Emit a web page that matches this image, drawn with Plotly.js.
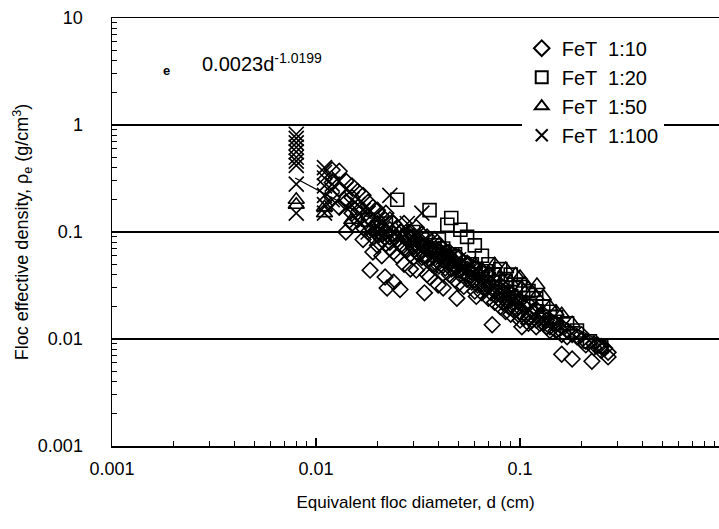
<!DOCTYPE html>
<html>
<head>
<meta charset="utf-8">
<script src="https://cdn.plot.ly/plotly-3.0.1.min.js"></script>
<style>
html,body{margin:0;padding:0;background:#fff;overflow:hidden;}
#chart{width:719px;height:529px;}
</style>
</head>
<body>
<div id="chart"></div>
<script>
// ---- Data ----
const seriesNames = ["FeT  1:10", "FeT  1:20", "FeT  1:50", "FeT  1:100"];

// FeT 1:10 (open diamonds)
const d10 = [
  0.012,0.012,0.012, 0.013,0.013,0.013, 0.014,0.014,0.014, 0.015,0.015,0.015,0.015,
  0.016,0.016,0.016, 0.017,0.017,0.017,0.017, 0.018,0.018,0.018,0.0184, 0.019,0.019,0.019,0.019,0.019,
  0.02,0.02,0.02,0.02, 0.021,0.021,0.021,0.021,0.021, 0.022,0.022,0.022,0.0218,0.0223, 0.023,0.023,0.023,0.023,0.023,
  0.024,0.024,0.024,0.024, 0.025,0.025,0.025,0.0258, 0.026,0.026, 0.027,0.027,0.027,0.027, 0.028,0.028,
  0.029,0.029,0.029,0.029, 0.03,0.03,0.03, 0.031,0.031,0.031,0.031, 0.032,0.032, 0.033,0.033,0.033, 0.034,0.034,0.034,
  0.035,0.035,0.035,0.035, 0.036,0.036,0.036, 0.037,0.037, 0.038,0.038,0.038, 0.039,0.039,
  0.04,0.04,0.04,0.0397, 0.041,0.041, 0.042,0.042,0.042,0.042, 0.043,0.043, 0.044, 0.045,0.045,0.045,
  0.046,0.046, 0.047, 0.048,0.048,0.048, 0.049, 0.05,0.05,0.05, 0.051,0.051, 0.052, 0.053,0.053,0.053,
  0.055,0.055, 0.056,0.056, 0.058,0.058, 0.06,0.06,0.06, 0.061, 0.062,0.062, 0.065,0.065,0.065, 0.067,0.067,
  0.07,0.07,0.07, 0.072,0.072, 0.073, 0.075,0.075,0.075, 0.078,0.078, 0.08,0.08,0.08, 0.082,0.082,
  0.085,0.085,0.085, 0.088,0.088, 0.09,0.09,0.09, 0.092,0.092, 0.095,0.095, 0.098,0.098, 0.1,0.1,0.1, 0.102,
  0.105,0.105, 0.11,0.11,0.11, 0.115,0.115, 0.12,0.12,0.12, 0.125,0.125, 0.13,0.13, 0.135,0.135,
  0.14,0.14,0.14, 0.145, 0.15,0.15, 0.155, 0.16,0.16,0.16, 0.17,0.17, 0.18,0.18, 0.19,
  0.2,0.2, 0.21,0.21, 0.225, 0.23,0.23, 0.24, 0.25,0.25, 0.26, 0.27,0.27];
const r10 = [
  0.38,0.29,0.21, 0.37,0.25,0.17, 0.30,0.19,0.10, 0.27,0.21,0.15,0.12,
  0.24,0.17,0.13, 0.22,0.16,0.11,0.085, 0.19,0.14,0.10,0.044, 0.17,0.125,0.105,0.09,0.065,
  0.16,0.12,0.095,0.075, 0.14,0.11,0.095,0.085,0.06, 0.15,0.10,0.078,0.038,0.030, 0.13,0.105,0.09,0.08,0.07,
  0.12,0.095,0.065,0.034, 0.11,0.085,0.06,0.029, 0.1,0.075, 0.12,0.09,0.07,0.05, 0.085,0.068,
  0.10,0.08,0.062,0.045, 0.09,0.072,0.058, 0.11,0.085,0.065,0.044, 0.08,0.062, 0.095,0.075,0.058, 0.075,0.06,0.027,
  0.09,0.07,0.055,0.04, 0.07,0.056,0.038, 0.062,0.05, 0.085,0.065,0.05, 0.068,0.055,
  0.075,0.06,0.048,0.032, 0.062,0.05, 0.07,0.055,0.041,0.030, 0.06,0.046, 0.055, 0.065,0.052,0.04,
  0.057,0.045, 0.05, 0.06,0.047,0.036, 0.024, 0.058,0.044,0.033, 0.05,0.04, 0.046, 0.052,0.042,0.031,
  0.045,0.036, 0.05,0.039, 0.042,0.034, 0.046,0.036,0.028, 0.025, 0.04,0.032, 0.042,0.033,0.027, 0.037,0.03,
  0.039,0.031,0.024, 0.033,0.027, 0.0136, 0.035,0.028,0.022, 0.03,0.024, 0.032,0.026,0.02, 0.028,0.022,
  0.029,0.023,0.018, 0.025,0.02, 0.027,0.021,0.017, 0.024,0.019, 0.025,0.019, 0.022,0.017, 0.023,0.018,0.015, 0.013,
  0.02,0.016, 0.021,0.016,0.014, 0.018,0.015, 0.019,0.015,0.013, 0.016,0.014, 0.017,0.014, 0.015,0.013,
  0.015,0.013,0.012, 0.014, 0.014,0.012, 0.0125, 0.013,0.011,0.0072, 0.012,0.0105, 0.011,0.0065, 0.0105,
  0.011,0.0098, 0.0095,0.0088, 0.0062, 0.009,0.0083, 0.0088, 0.0085,0.0078, 0.0082, 0.0075,0.0068];

// FeT 1:20 (open squares)
const d20 = [0.018,0.02,0.022,0.025,0.028,0.03,0.033,0.036,0.038,0.04,0.042,0.044,0.046,0.048,0.051,0.055,0.058,
  0.06,0.065,0.068,0.07,0.075,0.08,0.085,0.09,0.095,0.1,0.11,0.12,0.13,0.14,0.15,0.17,0.19,0.22,0.25];
const r20 = [0.13,0.11,0.12,0.2,0.09,0.1,0.085,0.16,0.075,0.085,0.07,0.117,0.135,0.062,0.105,0.09,0.05,
  0.075,0.06,0.043,0.05,0.04,0.045,0.035,0.04,0.03,0.032,0.028,0.024,0.02,0.018,0.016,0.014,0.012,0.0095,0.0085];

// FeT 1:50 (open triangles)
const d50 = [0.008,0.008,0.011,0.011,0.015,0.02,0.025,0.03,0.035,0.04,0.045,0.05,0.055,0.06,0.065,0.07,0.075,0.08,
  0.085,0.09,0.095,0.1,0.102,0.105,0.11,0.115,0.12,0.121,0.13,0.14,0.15,0.16,0.18];
const r50 = [0.18,0.2,0.15,0.17,0.13,0.1,0.09,0.08,0.075,0.07,0.063,0.06,0.052,0.05,0.045,0.042,0.05,0.038,
  0.045,0.034,0.04,0.038,0.03,0.033,0.03,0.027,0.025,0.032,0.025,0.02,0.018,0.017,0.014];

// FeT 1:100 (crosses)
const d100 = [0.008,0.008,0.008,0.008,0.008,0.008,0.008,0.008,0.008,0.008,
  0.011,0.011,0.011,0.011,0.011,0.011,0.011,
  0.012,0.012,0.013,0.014,0.014,0.015,0.016,0.016,0.017,0.018,0.018,0.02,0.021,0.021,0.023,0.023,0.024,0.025,0.026,
  0.028,0.03,0.03,0.032,0.033,0.035,0.036,0.038,0.04,0.042,0.045,0.048,0.05,0.052,0.055,0.058,0.06,0.065,
  0.07,0.075,0.08,0.085,0.09,0.095,0.1,0.11,0.12];
const r100 = [0.82,0.75,0.68,0.62,0.56,0.5,0.46,0.42,0.28,0.15,
  0.40,0.36,0.32,0.27,0.22,0.18,0.15,
  0.28,0.2,0.3,0.25,0.17,0.2,0.18,0.13,0.16,0.15,0.1,0.13,0.12,0.09,0.22,0.11,0.1,0.09,0.085,
  0.12,0.08,0.095,0.07,0.15,0.07,0.08,0.06,0.065,0.058,0.06,0.05,0.055,0.045,0.045,0.04,0.04,0.035,
  0.036,0.03,0.03,0.027,0.025,0.023,0.022,0.019,0.018];

// Fitted power law 0.0023 d^-1.0199 (end points)
const fitD = [0.0079, 0.27];
const fitR = [0.32, 0.0087];

const xTickVals = [0.001, 0.01, 0.1];
const xTickText = ["0.001", "0.01", "0.1"];
const yTickVals = [0.001, 0.01, 0.1, 1, 10];
const yTickText = ["0.001", "0.01", "0.1", "1", "10"];

// minor tick positions (2..9 per decade)
const minorVals = [];
for (let e = -4; e <= 1; e++) for (let m = 2; m <= 9; m++) minorVals.push(m * Math.pow(10, e));

const FONT = "Liberation Sans, Arial, sans-serif";
const mline = {color: "#000", width: 1.6};

const traces = [
  {x: d10, y: r10, name: seriesNames[0], type: "scatter", mode: "markers",
   marker: {symbol: "diamond-open", size: 12, color: "#000", line: mline}},
  {x: d20, y: r20, name: seriesNames[1], type: "scatter", mode: "markers",
   marker: {symbol: "square-open", size: 13, color: "#000", line: mline}},
  {x: d50, y: r50, name: seriesNames[2], type: "scatter", mode: "markers",
   marker: {symbol: "triangle-up-open", size: 14, color: "#000", line: mline}},
  {x: d100, y: r100, name: seriesNames[3], type: "scatter", mode: "markers",
   marker: {symbol: "x-thin-open", size: 15, color: "#000", line: mline}},
  {x: fitD, y: fitR, name: "fit", type: "scatter", mode: "lines", showlegend: false,
   line: {color: "#000", width: 1.3}}
];

const layout = {
  width: 719, height: 529,
  margin: {l: 112, r: 0, t: 18, b: 83},
  paper_bgcolor: "#fff", plot_bgcolor: "#fff",
  font: {family: FONT, color: "#000", size: 17},
  showlegend: true,
  legend: {x: 0.675, y: 0.975, xanchor: "left", yanchor: "top",
    bgcolor: "#fff", borderwidth: 0, font: {family: FONT, size: 20, color: "#000"},
    itemsizing: "constant", tracegroupgap: 0, itemwidth: 30},
  xaxis: {type: "log", range: [-3, -0.025], tickvals: xTickVals, ticktext: xTickText,
    ticks: "inside", ticklen: 8, tickwidth: 1.2, tickcolor: "#000",
    minor: {tickvals: minorVals, ticks: "inside", ticklen: 5, tickwidth: 1, tickcolor: "#000", showgrid: false},
    showline: true, linecolor: "#000", linewidth: 1.5, mirror: true, showgrid: false, zeroline: false,
    tickfont: {family: FONT, size: 18, color: "#000"}, ticklabelstandoff: 6,
    title: {text: "Equivalent floc diameter, d (cm)", font: {family: FONT, size: 17, color: "#000"}, standoff: 18}},
  yaxis: {type: "log", range: [-3, 1], tickvals: yTickVals, ticktext: yTickText,
    ticks: "inside", ticklen: 8, tickwidth: 1.2, tickcolor: "#000",
    minor: {tickvals: minorVals, ticks: "inside", ticklen: 5, tickwidth: 1, tickcolor: "#000", showgrid: false},
    showline: true, linecolor: "#000", linewidth: 1.5, mirror: false,
    showgrid: true, gridcolor: "#000", gridwidth: 1.3, zeroline: false,
    tickfont: {family: FONT, size: 18, color: "#000"}, ticklabelstandoff: 24,
    title: {text: "Floc effective density, ρ<sub>e</sub> (g/cm<sup>3</sup>)", font: {family: FONT, size: 18, color: "#000"}, standoff: 4}},
  annotations: [
    {xref: "paper", yref: "paper", x: 0.0906, y: 0.878, xanchor: "center", yanchor: "middle",
     text: "<b>e</b>", showarrow: false, font: {family: FONT, size: 13, color: "#000"}},
    {xref: "paper", yref: "paper", x: 0.145, y: 0.897, xanchor: "left", yanchor: "middle",
     text: "0.0023d<sup>-1.0199</sup>", showarrow: false, font: {family: FONT, size: 20, color: "#000"}}
  ]
};

Plotly.newPlot("chart", traces, layout, {displayModeBar: false, staticPlot: true});
</script>
</body>
</html>
